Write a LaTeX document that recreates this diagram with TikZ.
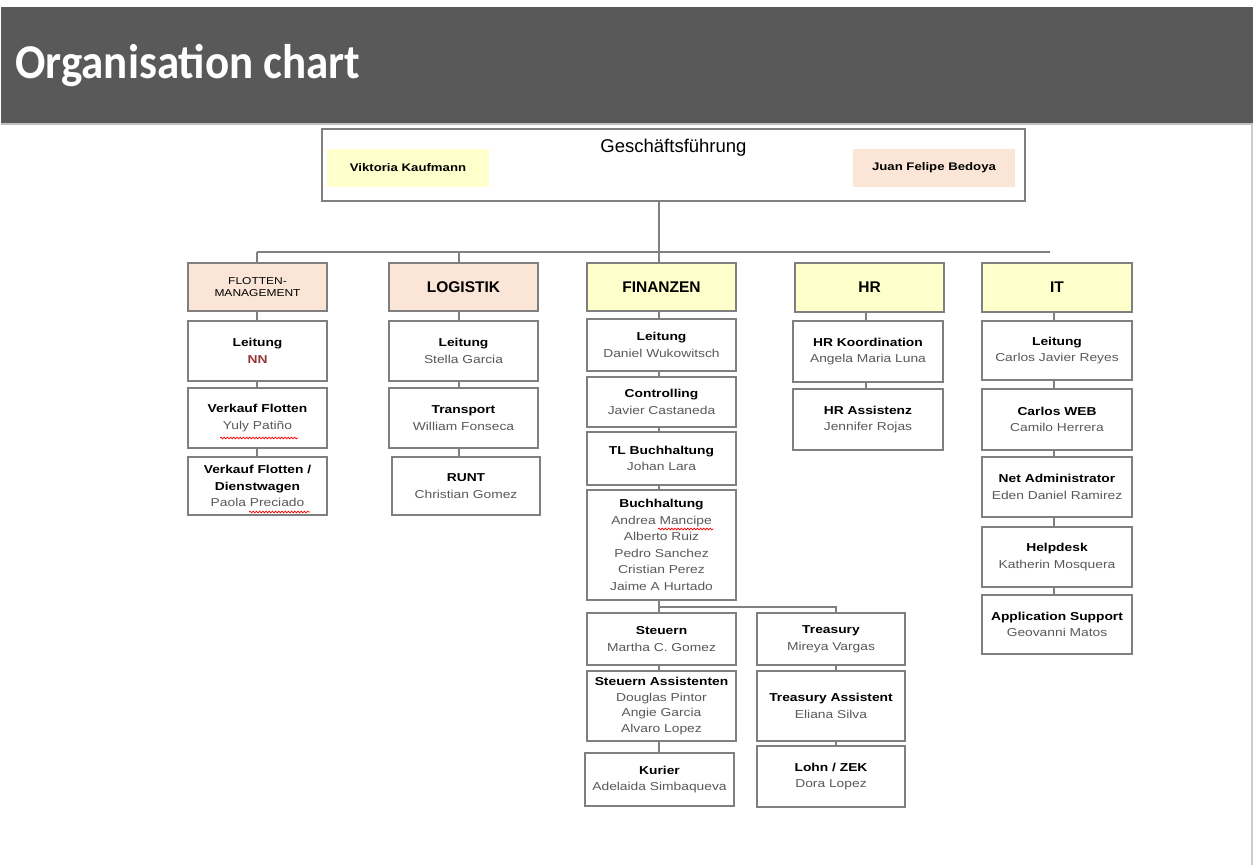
\documentclass[tikz,border=0pt]{standalone}
\usepackage{fontspec}
\setmainfont{Liberation Sans}
\newfontfamily\chartfont[FakeStretch=1.2]{Liberation Sans}
\newfontfamily\headfont{Carlito}
\usetikzlibrary{decorations.pathmorphing}

\definecolor{bandgray}{HTML}{595959}
\definecolor{rulegray}{HTML}{BFBFBF}
\definecolor{boxline}{HTML}{7F7F7F}
\definecolor{linkgray}{HTML}{808080}
\definecolor{peach}{HTML}{FBE5D6}
\definecolor{paleyellow}{HTML}{FFFFCC}
\definecolor{namegray}{HTML}{595959}
\definecolor{nnred}{HTML}{953734}

\newcommand\hd[1]{{\bfseries\color{black}#1}}

\tikzset{
  orgbox/.style={draw=boxline, line width=1.3pt, fill=white, inner sep=0pt,
    align=center, text=namegray, font=\chartfont\fontsize{11.5}{16.5}\selectfont},
  deptbox/.style={orgbox, font=\bfseries\fontsize{15.5}{18}\selectfont, text=black},
  peachdept/.style={deptbox, fill=peach},
  yellowdept/.style={deptbox, fill=paleyellow},
  ownerbox/.style={inner sep=0pt, text=black, font=\chartfont\bfseries\fontsize{11}{13}\selectfont},
  link/.style={draw=linkgray, line width=1.3pt},
  squiggle/.style={draw=red, line width=0.7pt, decorate,
    decoration={snake, amplitude=0.9pt, segment length=3.2pt}}
}

\begin{document}
\begin{tikzpicture}[x=1pt, y=-1pt]
\useasboundingbox (0,0) rectangle (1256,865);

% title band
\fill[bandgray] (1,7) rectangle (1253,123);
\draw[rulegray, line width=2pt] (1,124) -- (1253,124);
\draw[rulegray!80, line width=2pt] (1252,124) -- (1252,865);
\node[anchor=west, inner sep=0pt, text=white, font=\headfont\bfseries\fontsize{45}{50}\selectfont]
  (title) at (15,66) {\scalebox{1}[1.08]{Organisation chart}};

% management
\node[orgbox, minimum width=703, minimum height=72] (gf) at (673.5,165) {};
\node[inner sep=0pt, text=black, font=\fontsize{18.5}{20}\selectfont] (gft) at (673.5,148) {Geschäftsführung};
\node[ownerbox, fill=paleyellow, minimum width=162, minimum height=38] (vk) at (408,168) {Viktoria Kaufmann};
\node[ownerbox, fill=peach, minimum width=162, minimum height=38] (jf) at (934,168) {Juan Felipe Bedoya};

% column spines
\coordinate (sp1) at (257,0);
\coordinate (sp2) at (459,0);
\coordinate (sp3) at (659,0);
\coordinate (spt) at (836,0);
\coordinate (sp4) at (866,0);
\coordinate (sp5) at (1054,0);
\coordinate (busL) at (257,252);
\coordinate (busR) at (1050,252);
\coordinate (fork) at (659,607);

% Flottenmanagement
\node[peachdept, minimum width=139, minimum height=48, font=\chartfont\fontsize{10}{12}\selectfont] (fh) at (257.5,287) {FLOTTEN-\\MANAGEMENT};
\node[orgbox, minimum width=139, minimum height=60] (f1) at (257.5,351) {\hd{Leitung}\\{\bfseries\color{nnred}NN}};
\node[orgbox, minimum width=139, minimum height=60] (f2) at (257.5,418) {\hd{Verkauf Flotten}\\Yuly Patiño};
\node[orgbox, minimum width=139, minimum height=58] (f3) at (257.5,486) {\hd{Verkauf Flotten /}\\\hd{Dienstwagen}\\Paola Preciado};

% Logistik
\node[peachdept, minimum width=149, minimum height=48] (lh) at (463.5,287) {LOGISTIK};
\node[orgbox, minimum width=149, minimum height=60] (l1) at (463.5,351) {\hd{Leitung}\\Stella Garcia};
\node[orgbox, minimum width=149, minimum height=60] (l2) at (463.5,418) {\hd{Transport}\\William Fonseca};
\node[orgbox, minimum width=148, minimum height=58] (l3) at (466,486) {\hd{RUNT}\\Christian Gomez};

% Finanzen
\node[yellowdept, minimum width=149, minimum height=48] (nh) at (661.5,287) {FINANZEN};
\node[orgbox, minimum width=149, minimum height=52] (n1) at (661.5,345) {\hd{Leitung}\\Daniel Wukowitsch};
\node[orgbox, minimum width=149, minimum height=50] (n2) at (661.5,402) {\hd{Controlling}\\Javier Castaneda};
\node[orgbox, minimum width=149, minimum height=53] (n3) at (661.5,458.5) {\hd{TL Buchhaltung}\\Johan Lara};
\node[orgbox, minimum width=149, minimum height=110] (n4) at (661.5,545) {\hd{Buchhaltung}\\Andrea Mancipe\\Alberto Ruiz\\Pedro Sanchez\\Cristian Perez\\Jaime A Hurtado};
\node[orgbox, minimum width=149, minimum height=52] (s1) at (661.5,639) {\hd{Steuern}\\Martha C. Gomez};
\node[orgbox, minimum width=149, minimum height=70, font=\chartfont\fontsize{11.5}{15.7}\selectfont] (s2) at (661.5,706) {\hd{Steuern Assistenten}\\Douglas Pintor\\Angie Garcia\\Alvaro Lopez};
\node[orgbox, minimum width=149, minimum height=53] (s3) at (659.5,779.5) {\hd{Kurier}\\Adelaida Simbaqueva};
\node[orgbox, minimum width=148, minimum height=52] (t1) at (831,639) {\hd{Treasury}\\Mireya Vargas};
\node[orgbox, minimum width=148, minimum height=70] (t2) at (831,706) {\hd{Treasury Assistent}\\Eliana Silva};
\node[orgbox, minimum width=148, minimum height=61] (t3) at (831,776.5) {\hd{Lohn / ZEK}\\Dora Lopez};

% HR
\node[yellowdept, minimum width=149, minimum height=49] (hh) at (869.5,287.5) {HR};
\node[orgbox, minimum width=150, minimum height=61] (h1) at (868,351.5) {\hd{HR Koordination}\\Angela Maria Luna};
\node[orgbox, minimum width=150, minimum height=61] (h2) at (868,419.5) {\hd{HR Assistenz}\\Jennifer Rojas};

% IT
\node[yellowdept, minimum width=150, minimum height=49] (ih) at (1057,287.5) {IT};
\node[orgbox, minimum width=150, minimum height=59] (i1) at (1057,350.5) {\hd{Leitung}\\Carlos Javier Reyes};
\node[orgbox, minimum width=150, minimum height=61] (i2) at (1057,419.5) {\hd{Carlos WEB}\\Camilo Herrera};
\node[orgbox, minimum width=150, minimum height=60] (i3) at (1057,487) {\hd{Net Administrator}\\Eden Daniel Ramirez};
\node[orgbox, minimum width=150, minimum height=60] (i4) at (1057,557) {\hd{Helpdesk}\\Katherin Mosquera};
\node[orgbox, minimum width=150, minimum height=59] (i5) at (1057,624.5) {\hd{Application Support}\\Geovanni Matos};

% reporting lines
\draw[link] (busL) -- (busR);
\draw[link] (gf.south -| sp3) -- (nh.north -| sp3);
\draw[link] (busL) -- (fh.north -| busL);
\draw[link] (sp2 |- busL) -- (lh.north -| sp2);

\draw[link] (fh.south -| sp1) -- (f1.north -| sp1);
\draw[link] (f1.south -| sp1) -- (f2.north -| sp1);
\draw[link] (f2.south -| sp1) -- (f3.north -| sp1);

\draw[link] (lh.south -| sp2) -- (l1.north -| sp2);
\draw[link] (l1.south -| sp2) -- (l2.north -| sp2);
\draw[link] (l2.south -| sp2) -- (l3.north -| sp2);

\draw[link] (nh.south -| sp3) -- (n1.north -| sp3);
\draw[link] (n1.south -| sp3) -- (n2.north -| sp3);
\draw[link] (n2.south -| sp3) -- (n3.north -| sp3);
\draw[link] (n3.south -| sp3) -- (n4.north -| sp3);
\draw[link] (n4.south -| sp3) -- (s1.north -| sp3);
\draw[link] (fork) -| (t1.north -| spt);
\draw[link] (s1.south -| sp3) -- (s2.north -| sp3);
\draw[link] (s2.south -| sp3) -- (s3.north -| sp3);
\draw[link] (t1.south -| spt) -- (t2.north -| spt);
\draw[link] (t2.south -| spt) -- (t3.north -| spt);

\draw[link] (hh.south -| sp4) -- (h1.north -| sp4);
\draw[link] (h1.south -| sp4) -- (h2.north -| sp4);

\draw[link] (ih.south -| sp5) -- (i1.north -| sp5);
\draw[link] (i1.south -| sp5) -- (i2.north -| sp5);
\draw[link] (i2.south -| sp5) -- (i3.north -| sp5);
\draw[link] (i3.south -| sp5) -- (i4.north -| sp5);
\draw[link] (i4.south -| sp5) -- (i5.north -| sp5);

% spell-check marks under names
\draw[squiggle] (220,438) -- (298,438);
\draw[squiggle] (249,512) -- (310,512);
\draw[squiggle] (658,529) -- (713,529);
\end{tikzpicture}
\end{document}
